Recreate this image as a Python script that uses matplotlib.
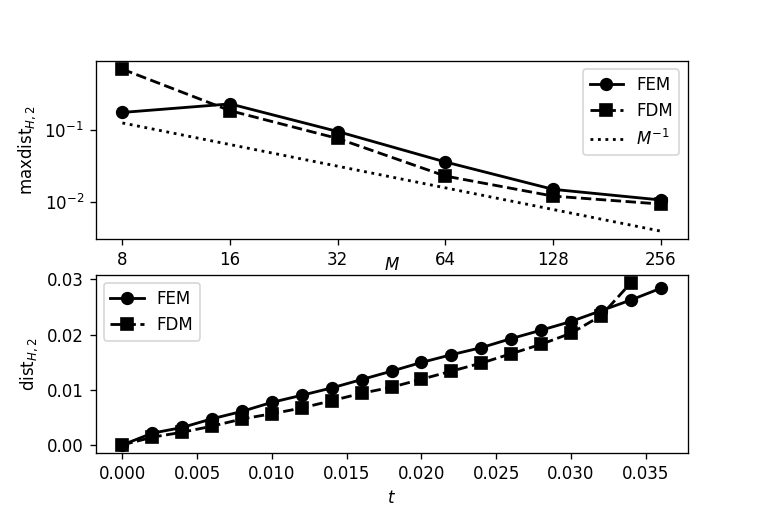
import numpy as np
import matplotlib
matplotlib.use("Agg")
import matplotlib.pyplot as plt
from matplotlib.ticker import NullLocator

# top panel: max distance vs number of cells M
M = [8, 16, 32, 64, 128, 256]
maxdist_fem = [0.175, 0.23, 0.095, 0.0358, 0.0149, 0.0106]
maxdist_fdm = [0.70, 0.185, 0.076, 0.0228, 0.012, 0.0093]

# bottom panel: distance over time
t_fem = [0.000, 0.002, 0.004, 0.006, 0.008, 0.010, 0.012, 0.014, 0.016, 0.018,
         0.020, 0.022, 0.024, 0.026, 0.028, 0.030, 0.032, 0.034, 0.036]
dist_fem = [0.0, 0.00213, 0.00316, 0.00474, 0.00608, 0.00772, 0.0090, 0.01033,
            0.01185, 0.01337, 0.01495, 0.01635, 0.01763, 0.01927, 0.02079,
            0.02237, 0.02432, 0.02626, 0.02839]
t_fdm = t_fem[:-1]
dist_fdm = [0.0, 0.0014, 0.0023, 0.0034, 0.0047, 0.00565, 0.00669, 0.00802,
            0.00936, 0.01046, 0.01191, 0.01337, 0.01483, 0.01653, 0.01824,
            0.02024, 0.0234, 0.02936]

plt.rcParams['lines.linewidth'] = 1.7
plt.rcParams['lines.markersize'] = 7

fig, (ax1, ax2) = plt.subplots(2, 1, figsize=(6.4, 4.264), dpi=119.375)

ax1.plot(M, maxdist_fem, 'k-o', label='FEM')
ax1.plot(M, maxdist_fdm, 'k--s', label='FDM')
ax1.plot(M, [1.0 / m for m in M], 'k:', label=r'$M^{-1}$')
ax1.set_xscale('log', base=2)
ax1.set_yscale('log')
ax1.set_xticks(M)
ax1.set_xticklabels([str(m) for m in M])
ax1.xaxis.set_minor_locator(NullLocator())
ax1.yaxis.set_minor_locator(NullLocator())
ax1.set_xlabel(r'$M$', labelpad=-8)
ax1.set_ylabel(r'maxdist$_{H,2}$')
ax1.legend(loc='upper right')

ax2.plot(t_fem, dist_fem, 'k-o', label='FEM')
ax2.plot(t_fdm, dist_fdm, 'k--s', label='FDM')
ax2.set_xlabel(r'$t$')
ax2.set_ylabel(r'dist$_{H,2}$')
ax2.legend(loc='upper left')

fig.savefig('out.png')
